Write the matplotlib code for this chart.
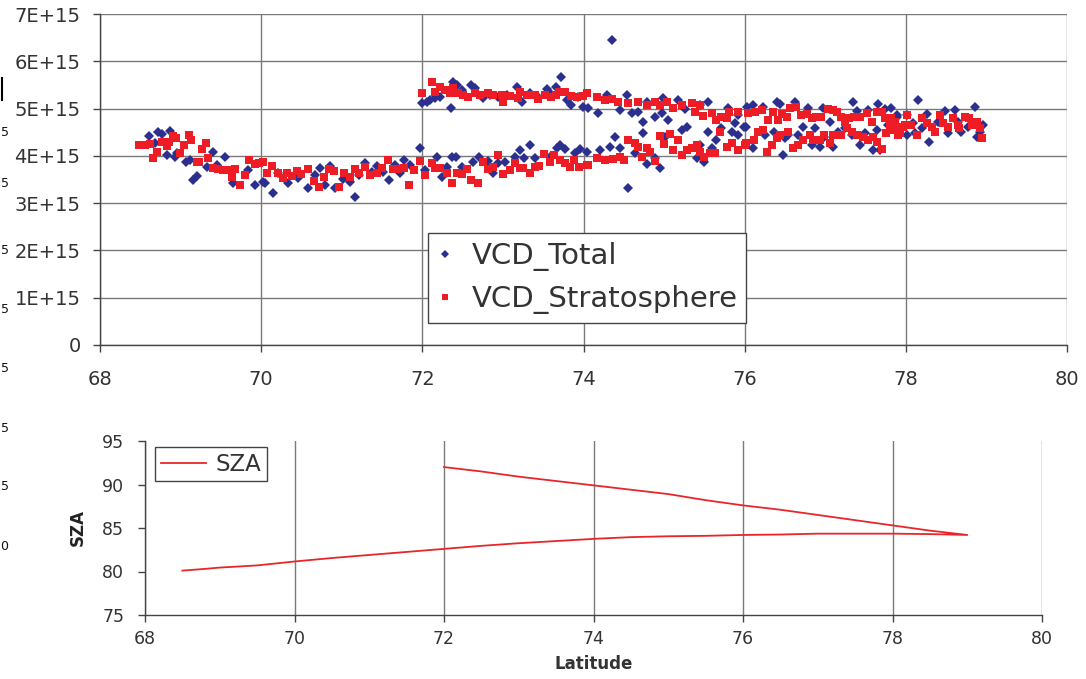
import matplotlib
matplotlib.use("Agg")
import matplotlib.pyplot as plt
import numpy as np

# ---------------- data (VCD values in units of 1E15 molec/cm2) ----------------
lat_total = [
    68.61, 68.72, 68.77, 68.87, 68.68, 68.83, 68.93, 68.95, 69.07, 69.12, 69.15, 69.20,
    69.40, 69.55, 69.33, 69.45, 69.65, 69.84, 69.92, 70.02,
    70.05, 70.15, 70.21, 70.33, 70.46, 70.58, 70.67, 70.73, 70.79, 70.85, 70.92, 71.01,
    71.10, 71.16, 71.22, 71.29, 71.37, 71.44, 71.51, 71.59, 71.66, 71.72, 71.77, 71.85,
    71.97, 72.03,
    72.18, 72.24, 72.30, 72.37, 72.42, 72.49, 72.63, 72.70, 72.82, 72.88, 72.94, 73.02,
    73.15, 73.21, 73.26, 73.34, 73.40, 73.58, 73.67, 73.71, 73.77, 73.90, 73.96, 74.04,
    74.20, 74.33, 74.39, 74.45, 74.55, 74.64, 74.79, 74.89, 74.95, 74.74, 74.74, 74.89,
    75.05, 75.01, 75.22, 75.28, 75.41, 75.44, 75.50, 75.54, 75.60, 75.65, 75.71, 75.84,
    75.88, 75.92, 75.99,
    76.02, 76.10, 76.25, 76.37, 76.50, 76.54, 76.66, 76.72, 76.84, 76.87, 76.93, 76.99,
    77.06, 77.10, 77.16, 77.24, 77.33, 77.43, 77.49, 77.59, 77.64, 77.68, 77.78, 77.90,
    76.47, 78.02,
    78.11, 78.29, 78.52, 78.69, 78.77, 78.88, 78.92, 78.96, 78.20,
    # return leg (upper branch)
    78.86, 78.15, 77.89, 78.09, 78.26, 78.40, 78.48, 78.61, 78.65, 78.02,
    76.10, 76.23, 76.40, 76.44, 76.62, 76.79, 76.97, 77.34, 77.40, 77.53, 77.65, 77.74,
    77.82, 77.89,
    74.05, 74.18, 74.29, 74.45, 74.54, 74.60, 74.68, 74.79, 74.97, 74.99, 75.17, 75.26,
    75.44, 75.54, 75.79, 75.92, 76.03,
    72.00, 72.06, 72.09, 72.16, 72.22, 72.35, 72.38, 72.43, 72.49, 72.61, 72.65, 72.75,
    72.84, 72.94, 73.05, 73.17, 73.24, 73.34, 73.44, 73.55, 73.60, 73.66, 73.72, 73.79,
    73.85, 73.93, 73.99, 74.35,
]
vcd_total = [
    4.42, 4.50, 4.46, 4.52, 4.27, 4.02, 3.97, 4.06, 3.87, 3.91, 3.49, 3.57,
    4.08, 3.97, 3.76, 3.80, 3.42, 3.70, 3.38, 3.45,
    3.42, 3.21, 3.63, 3.42, 3.53, 3.32, 3.59, 3.74, 3.38, 3.78, 3.32, 3.51,
    3.45, 3.13, 3.59, 3.85, 3.66, 3.78, 3.66, 3.49, 3.81, 3.63, 3.91, 3.81,
    4.16, 3.70,
    3.97, 3.55, 3.77, 3.97, 3.97, 3.77, 3.87, 3.97, 3.90, 3.63, 3.85, 3.87,
    3.97, 4.12, 3.95, 4.23, 3.95, 3.97, 4.16, 4.23, 4.14, 4.06, 4.14, 4.08,
    4.12, 4.18, 4.40, 4.16, 3.32, 4.06, 3.83, 3.95, 3.74, 4.48, 4.71, 4.82,
    4.76, 4.40, 4.55, 4.60, 3.95, 4.23, 3.87, 4.50, 4.16, 4.33, 4.59, 4.50,
    4.69, 4.44, 4.61,
    4.61, 4.16, 4.44, 4.50, 4.38, 4.44, 4.44, 4.61, 4.23, 4.59, 4.19, 4.40,
    4.71, 4.19, 4.50, 4.59, 4.44, 4.23, 4.48, 4.12, 4.55, 4.12, 4.65, 4.61,
    4.02, 4.44,
    4.48, 4.29, 4.48, 4.50, 4.61, 4.40, 4.50, 4.65, 4.59,
    5.03, 5.18, 4.86, 4.69, 4.88, 4.71, 4.95, 4.97, 4.71, 4.86,
    5.07, 5.03, 5.14, 5.10, 5.14, 5.01, 5.01, 5.14, 4.95, 4.97, 5.10, 4.99,
    5.01, 4.82,
    5.01, 4.90, 5.29, 4.97, 5.29, 4.90, 4.93, 5.14, 4.90, 5.22, 5.18, 4.99,
    5.07, 5.14, 5.01, 4.86, 5.03,
    5.12, 5.14, 5.18, 5.22, 5.24, 5.01, 5.56, 5.50, 5.39, 5.50, 5.43, 5.22,
    5.29, 5.24, 5.29, 5.45, 5.14, 5.33, 5.24, 5.41, 5.31, 5.45, 5.67, 5.18,
    5.07, 5.24, 5.03, 6.45,
]

lat_strat = [
    68.48, 68.56, 68.62, 68.66, 68.71, 68.77, 68.83, 68.86, 68.91, 68.94, 68.99, 69.04,
    69.10, 69.13, 69.20, 69.23, 69.26, 69.32, 69.34, 69.40, 69.47, 69.53, 69.59, 69.64,
    69.68, 69.74, 69.80, 69.85, 69.92, 69.97, 70.02,
    70.07, 70.13, 70.21, 70.27, 70.32, 70.38, 70.44, 70.50, 70.58, 70.66, 70.72, 70.78,
    70.84, 70.90, 70.97, 71.03, 71.10, 71.16, 71.22, 71.29, 71.35, 71.44, 71.50, 71.57,
    71.64, 71.70, 71.77, 71.84, 71.90, 71.97,
    72.03, 72.12, 72.16, 72.22, 72.30, 72.37, 72.43, 72.49, 72.55, 72.61, 72.69, 72.75,
    72.81, 72.88, 72.94, 73.00, 73.09, 73.15, 73.21, 73.25, 73.34, 73.40, 73.45, 73.51,
    73.58, 73.64, 73.71, 73.77, 73.83, 73.88, 73.94, 74.04,
    74.05, 74.17, 74.27, 74.37, 74.45, 74.50, 74.55, 74.64, 74.68, 74.72, 74.79, 74.82,
    74.89, 74.95, 75.00, 75.07, 75.11, 75.17, 75.22, 75.28, 75.35, 75.41, 75.44, 75.50,
    75.57, 75.63, 75.70, 75.78, 75.84, 75.92, 76.00,
    76.02, 76.12, 76.16, 76.23, 76.28, 76.34, 76.40, 76.44, 76.54, 76.60, 76.66, 76.72,
    76.81, 76.85, 76.93, 76.99, 77.06, 77.10, 77.19, 77.27, 77.33, 77.40, 77.47, 77.53,
    77.59, 77.64, 77.70, 77.76, 77.84, 77.90, 77.99,
    77.91, 77.93, 77.96, 78.07, 78.14, 78.36, 78.52, 78.66, 78.92, 78.94,
    # return leg (upper branch)
    78.88, 78.82, 78.79, 78.73, 78.65, 78.58, 78.46, 78.42, 78.33, 78.26, 78.20, 78.02,
    78.01, 77.95, 77.86, 77.82, 77.80, 77.74, 77.70, 77.64, 77.58, 77.52, 77.43, 77.36,
    77.30, 77.24, 77.20, 77.15, 77.09, 77.03, 76.95, 76.89, 76.83, 76.77, 76.70, 76.64,
    76.56, 76.52, 76.46, 76.41, 76.35, 76.29, 76.22, 76.13, 76.04,
    75.92, 75.81, 75.78, 75.71, 75.65, 75.59, 75.48, 75.44, 75.38, 75.35, 75.22, 75.11,
    75.03, 74.95, 74.89, 74.79, 74.68, 74.55, 74.43, 74.35, 74.27, 74.17, 74.04,
    73.99, 73.92, 73.85, 73.77, 73.70, 73.66, 73.60, 73.52, 73.44, 73.40, 73.30, 73.21,
    73.19, 73.09, 73.00, 72.99, 72.88, 72.81, 72.71, 72.65, 72.57, 72.50, 72.44, 72.38,
    72.34, 72.28, 72.22, 72.16, 72.12, 72.00,
]
vcd_strat = [
    4.23, 4.23, 4.25, 3.95, 4.08, 4.29, 4.21, 4.29, 4.42, 4.38, 4.06, 4.23,
    4.44, 4.33, 3.87, 3.87, 4.14, 4.27, 3.95, 3.74, 3.72, 3.70, 3.70, 3.55,
    3.72, 3.38, 3.59, 3.91, 3.83, 3.85, 3.87,
    3.63, 3.78, 3.63, 3.53, 3.63, 3.57, 3.68, 3.61, 3.72, 3.47, 3.34, 3.55,
    3.72, 3.68, 3.34, 3.63, 3.55, 3.72, 3.63, 3.76, 3.59, 3.63, 3.74, 3.91,
    3.72, 3.72, 3.74, 3.38, 3.70, 3.89,
    3.59, 3.85, 3.74, 3.74, 3.63, 3.42, 3.63, 3.61, 3.72, 3.49, 3.42, 3.87,
    3.72, 3.76, 4.02, 3.61, 3.70, 3.85, 3.74, 3.74, 3.63, 3.76, 3.78, 4.04,
    3.87, 4.02, 3.91, 3.85, 3.76, 3.91, 3.76, 3.81,
    3.81, 3.95, 3.91, 3.93, 3.97, 3.91, 4.33, 4.27, 4.18, 3.97, 4.16, 4.08,
    3.89, 4.42, 4.25, 4.46, 4.12, 4.33, 4.02, 4.12, 4.16, 4.23, 4.08, 3.97,
    4.06, 4.06, 4.50, 4.19, 4.27, 4.12, 4.23,
    4.27, 4.33, 4.50, 4.55, 4.08, 4.23, 4.38, 4.44, 4.50, 4.16, 4.23, 4.33,
    4.44, 4.33, 4.33, 4.44, 4.27, 4.44, 4.44, 4.59, 4.50, 4.44, 4.40, 4.33,
    4.40, 4.29, 4.14, 4.48, 4.55, 4.44, 4.65,
    4.61, 4.48, 4.61, 4.65, 4.44, 4.50, 4.61, 4.59, 4.59, 4.38,
    4.71, 4.65, 4.80, 4.82, 4.65, 4.80, 4.69, 4.86, 4.61, 4.69, 4.80, 4.86,
    4.86, 4.61, 4.71, 4.80, 4.65, 4.80, 4.93, 4.93, 4.71, 4.90, 4.82, 4.82,
    4.80, 4.71, 4.82, 4.93, 4.97, 4.99, 4.82, 4.82, 4.80, 4.88, 4.86, 5.03,
    5.01, 4.82, 4.88, 4.76, 4.93, 4.76, 4.97, 4.93, 4.90,
    4.93, 4.93, 4.80, 4.82, 4.76, 4.90, 4.84, 5.07, 4.93, 5.12, 5.07, 5.01,
    5.14, 5.07, 5.14, 5.07, 5.14, 5.12, 5.14, 5.20, 5.18, 5.24, 5.33,
    5.26, 5.24, 5.26, 5.35, 5.35, 5.29, 5.24, 5.29, 5.20, 5.29, 5.29, 5.35,
    5.22, 5.26, 5.14, 5.29, 5.29, 5.33, 5.29, 5.33, 5.24, 5.29, 5.33, 5.43,
    5.33, 5.39, 5.45, 5.35, 5.56, 5.33,
]

lat_sza = [68.5, 68.8, 69.0, 69.5, 70.0, 70.5, 71.0, 71.5, 72.0, 72.5, 73.0, 73.5,
           74.0, 74.5, 75.0, 75.5, 76.0, 76.5, 77.0, 77.5, 78.0, 78.5, 79.0,
           78.5, 78.0, 77.5, 77.0, 76.5, 76.0, 75.5, 75.0, 74.5, 74.0, 73.5,
           73.0, 72.5, 72.0]
sza = [80.1, 80.3, 80.45, 80.7, 81.15, 81.55, 81.9, 82.25, 82.6, 82.95, 83.25, 83.5,
       83.75, 83.95, 84.05, 84.1, 84.2, 84.25, 84.35, 84.35, 84.35, 84.3, 84.2,
       84.7, 85.3, 85.9, 86.5, 87.1, 87.6, 88.2, 88.9, 89.4, 89.9, 90.4,
       90.9, 91.5, 92.0]

top_xticks = [68, 70, 72, 74, 76, 78, 80]
top_yticks = [0, 1, 2, 3, 4, 5, 6, 7]
top_ytick_labels = ["0", "1E+15", "2E+15", "3E+15", "4E+15", "5E+15", "6E+15", "7E+15"]
bot_xticks = [68, 70, 72, 74, 76, 78, 80]
bot_yticks = [75, 80, 85, 90, 95]

# ---------------- figure ----------------
W, H = 1086, 679
fig = plt.figure(figsize=(W / 100, H / 100), dpi=100)
plt.rcParams['font.family'] = ['DejaVu Sans']

BLUE = "#2B2F8E"
RED = "#EE1C25"
GRID = "#7a7a7a"
TXT = "#333333"

def px_axes(l, t, r, b):
    return [l / W, 1 - b / H, (r - l) / W, (b - t) / H]

# top axes
ax1 = fig.add_axes(px_axes(100, 14, 1067, 345))
scale = 1e15
ax1.plot(lat_total, np.array(vcd_total) * scale, linestyle='none', marker='D',
         markersize=5.0, color=BLUE, markeredgewidth=0, label="VCD_Total")
ax1.plot(lat_strat, np.array(vcd_strat) * scale, linestyle='none', marker='s',
         markersize=5.6, color=RED, markeredgewidth=0, label="VCD_Stratosphere")
ax1.set_xlim(68, 80)
ax1.set_ylim(0, 7e15)
ax1.set_xticks(top_xticks)
ax1.set_yticks(np.array(top_yticks) * scale)
ax1.set_yticklabels(top_ytick_labels)
ax1.grid(True, color=GRID, linewidth=1.0)
ax1.set_axisbelow(True)
for s in ['top', 'right']:
    ax1.spines[s].set_visible(False)
for s in ['left', 'bottom']:
    ax1.spines[s].set_color("#444444")
    ax1.spines[s].set_linewidth(1.0)
ax1.tick_params(direction='out', length=5, width=1, color="#444444",
                labelsize=14, labelcolor=TXT)
ax1.tick_params(axis='y', pad=9)
ax1.tick_params(axis='x', pad=13)
leg1 = ax1.legend(loc='lower left', bbox_to_anchor=(0.339, 0.066), fontsize=21,
                  frameon=True, fancybox=False, edgecolor="#444444", framealpha=1,
                  handlelength=0.6, handletextpad=0.6, borderpad=0.3,
                  labelspacing=0.5, markerscale=0.8, borderaxespad=0)
leg1.get_frame().set_linewidth(1.0)
for t in leg1.get_texts():
    t.set_color(TXT)

# bottom axes
ax2 = fig.add_axes(px_axes(145, 441, 1042, 615))
ax2.plot(lat_sza, sza, color="#E8262A", linewidth=1.3, label="SZA")
ax2.set_xlim(68, 80)
ax2.set_ylim(75, 95)
ax2.set_xticks(bot_xticks)
ax2.set_yticks(bot_yticks)
ax2.grid(True, axis='x', color=GRID, linewidth=1.0)
ax2.set_axisbelow(True)
for s in ['top', 'right']:
    ax2.spines[s].set_visible(False)
for s in ['left', 'bottom']:
    ax2.spines[s].set_color("#444444")
    ax2.spines[s].set_linewidth(1.0)
ax2.tick_params(direction='out', length=5, width=1, color="#444444",
                labelsize=12.5, labelcolor=TXT)
ax2.tick_params(axis='y', pad=10)
ax2.tick_params(axis='x', pad=6)
ax2.set_xlabel("Latitude", fontsize=12, fontweight='bold', color=TXT, labelpad=5)
ax2.set_ylabel("SZA", fontsize=12, fontweight='bold', color="#222222", labelpad=11)
leg2 = ax2.legend(loc='upper left', bbox_to_anchor=(0.011, 0.966), fontsize=16.5,
                  frameon=True, fancybox=False, edgecolor="#444444", framealpha=1,
                  handlelength=2.0, handletextpad=0.4, borderpad=0.25,
                  borderaxespad=0)
leg2.get_frame().set_linewidth(1.0)
for t in leg2.get_texts():
    t.set_color(TXT)

# fragments of a neighbouring chart visible at the left border
frag_y = [132, 184, 250, 310, 368, 428, 487, 547]
frag_txt = ["5", "5", "5", "5", "5", "5", "5", "0"]
for yy, tt in zip(frag_y, frag_txt):
    fig.text(0.5 / W, 1 - yy / H, tt, ha='left', va='center', fontsize=9, color="#111111")
fig.add_artist(plt.Line2D([1.5 / W, 1.5 / W], [1 - 78 / H, 1 - 100 / H], color="black",
                          linewidth=1.5, transform=fig.transFigure))

fig.savefig("out.png", dpi=100)
